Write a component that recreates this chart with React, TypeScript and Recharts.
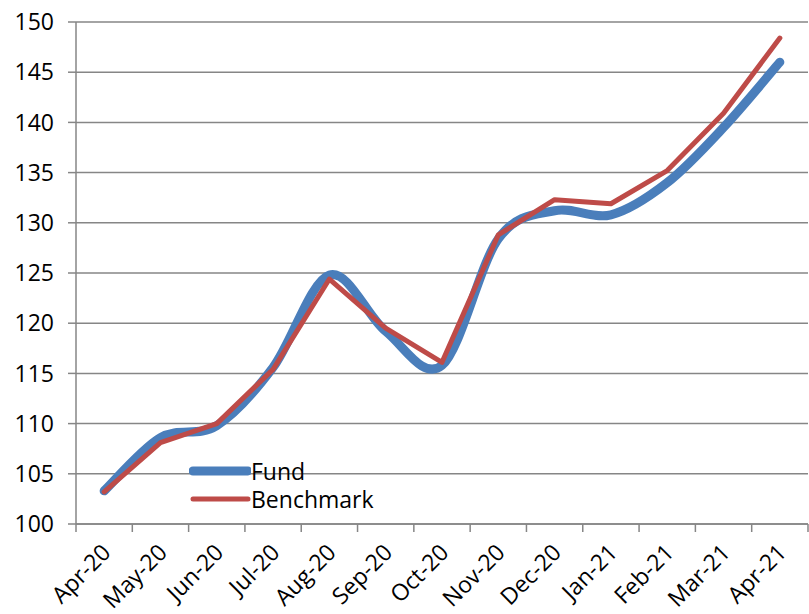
import React from 'react';
import { LineChart, Line, XAxis, YAxis, CartesianGrid, Legend } from 'recharts';

const months = ['Apr-20', 'May-20', 'Jun-20', 'Jul-20', 'Aug-20', 'Sep-20', 'Oct-20', 'Nov-20', 'Dec-20', 'Jan-21', 'Feb-21', 'Mar-21', 'Apr-21'];
const fund = [103.3, 108.6, 109.8, 115.6, 124.8, 119.2, 115.8, 128.4, 131.2, 130.8, 134.0, 139.5, 146.0];
const benchmark = [103.2, 108.1, 110.0, 115.4, 124.4, 119.5, 116.1, 128.8, 132.3, 131.9, 135.2, 140.9, 148.4];
const yTicks = [100, 105, 110, 115, 120, 125, 130, 135, 140, 145, 150];

const data = months.map((m, i) => ({ idx: i, month: m, fund: fund[i], benchmark: benchmark[i] }));
const xTicks: number[] = [];
for (let i = -0.5; i <= months.length - 0.5; i += 0.5) xTicks.push(i);

const FONT = '"Open Sans", sans-serif';
const GRID = '#868686';
const BLUE = '#4A7EBB';
const RED = '#BE4B48';

// Excel-like smoothed line (Catmull-Rom through points)
const excelSmooth: any = (context: any) => {
  let pts: [number, number][] = [];
  return {
    areaStart() {},
    areaEnd() {},
    lineStart() { pts = []; },
    lineEnd() {
      const n = pts.length;
      if (!n) return;
      context.moveTo(pts[0][0], pts[0][1]);
      for (let i = 0; i < n - 1; i++) {
        const p0 = pts[Math.max(i - 1, 0)];
        const p1 = pts[i];
        const p2 = pts[i + 1];
        const p3 = pts[Math.min(i + 2, n - 1)];
        context.bezierCurveTo(
          p1[0] + (p2[0] - p0[0]) / 6, p1[1] + (p2[1] - p0[1]) / 6,
          p2[0] - (p3[0] - p1[0]) / 6, p2[1] - (p3[1] - p1[1]) / 6,
          p2[0], p2[1]
        );
      }
    },
    point(x: number, y: number) { pts.push([+x, +y]); },
  };
};

const XTick = (props: any) => {
  const { x, y, payload } = props;
  const v = payload.value;
  if (Number.isInteger(v)) {
    const label = months[v];
    return (
      <text x={x + 8} y={y + 22} transform={`rotate(-45, ${x + 8}, ${y + 22})`} textAnchor="end"
        fontFamily={FONT} fontSize={23} fill="#000">{label}</text>
    );
  }
  return <line x1={x} x2={x} y1={y - 8} y2={y} stroke={GRID} strokeWidth={1.5} />;
};

const LegendContent = () => (
  <div style={{ fontFamily: FONT, fontSize: 23, color: '#000', lineHeight: '28px' }}>
    {[{ name: 'Fund', c: BLUE, w: 9 }, { name: 'Benchmark', c: RED, w: 5 }].map((it) => (
      <div key={it.name} style={{ display: 'flex', alignItems: 'center', height: 28 }}>
        <svg width={62} height={28} style={{ display: 'block' }}>
          <line x1={4} x2={59} y1={14} y2={14} stroke={it.c} strokeWidth={it.w} strokeLinecap="round" />
        </svg>
        <span>{it.name}</span>
      </div>
    ))}
  </div>
);

export default function App() {
  return (
    <div style={{ position: 'absolute', left: 0, top: 0, background: '#fff' }}>
      <LineChart width={809} height={614} data={data} margin={{ top: 22, right: 1, left: 0, bottom: 0 }}>
        <CartesianGrid vertical={false} stroke={GRID} strokeWidth={1.5} />
        <XAxis dataKey="idx" type="number" domain={[-0.5, months.length - 0.5]} ticks={xTicks} interval={0}
          height={90} tickLine={false} tickSize={8} tickMargin={0} axisLine={{ stroke: GRID, strokeWidth: 1.5 }}
          tick={<XTick />} allowDataOverflow />
        <YAxis domain={[100, 150]} ticks={yTicks} interval={0} width={76} tickSize={8} tickMargin={14}
          axisLine={{ stroke: GRID, strokeWidth: 1.5 }} tickLine={{ stroke: GRID, strokeWidth: 1.5 }}
          tick={{ fontFamily: FONT, fontSize: 23, fill: '#000' }} />
        <Legend layout="vertical" align="center" verticalAlign="middle" content={<LegendContent />}
          wrapperStyle={{ left: 189, top: 457, width: 'auto' }} />
        <Line dataKey="fund" name="Fund" type={excelSmooth} stroke={BLUE} strokeWidth={9} dot={false}
          activeDot={false} isAnimationActive={false} strokeLinecap="round" strokeLinejoin="round" />
        <Line dataKey="benchmark" name="Benchmark" type="linear" stroke={RED} strokeWidth={5} dot={false}
          activeDot={false} isAnimationActive={false} strokeLinecap="round" strokeLinejoin="round" />
      </LineChart>
    </div>
  );
}
